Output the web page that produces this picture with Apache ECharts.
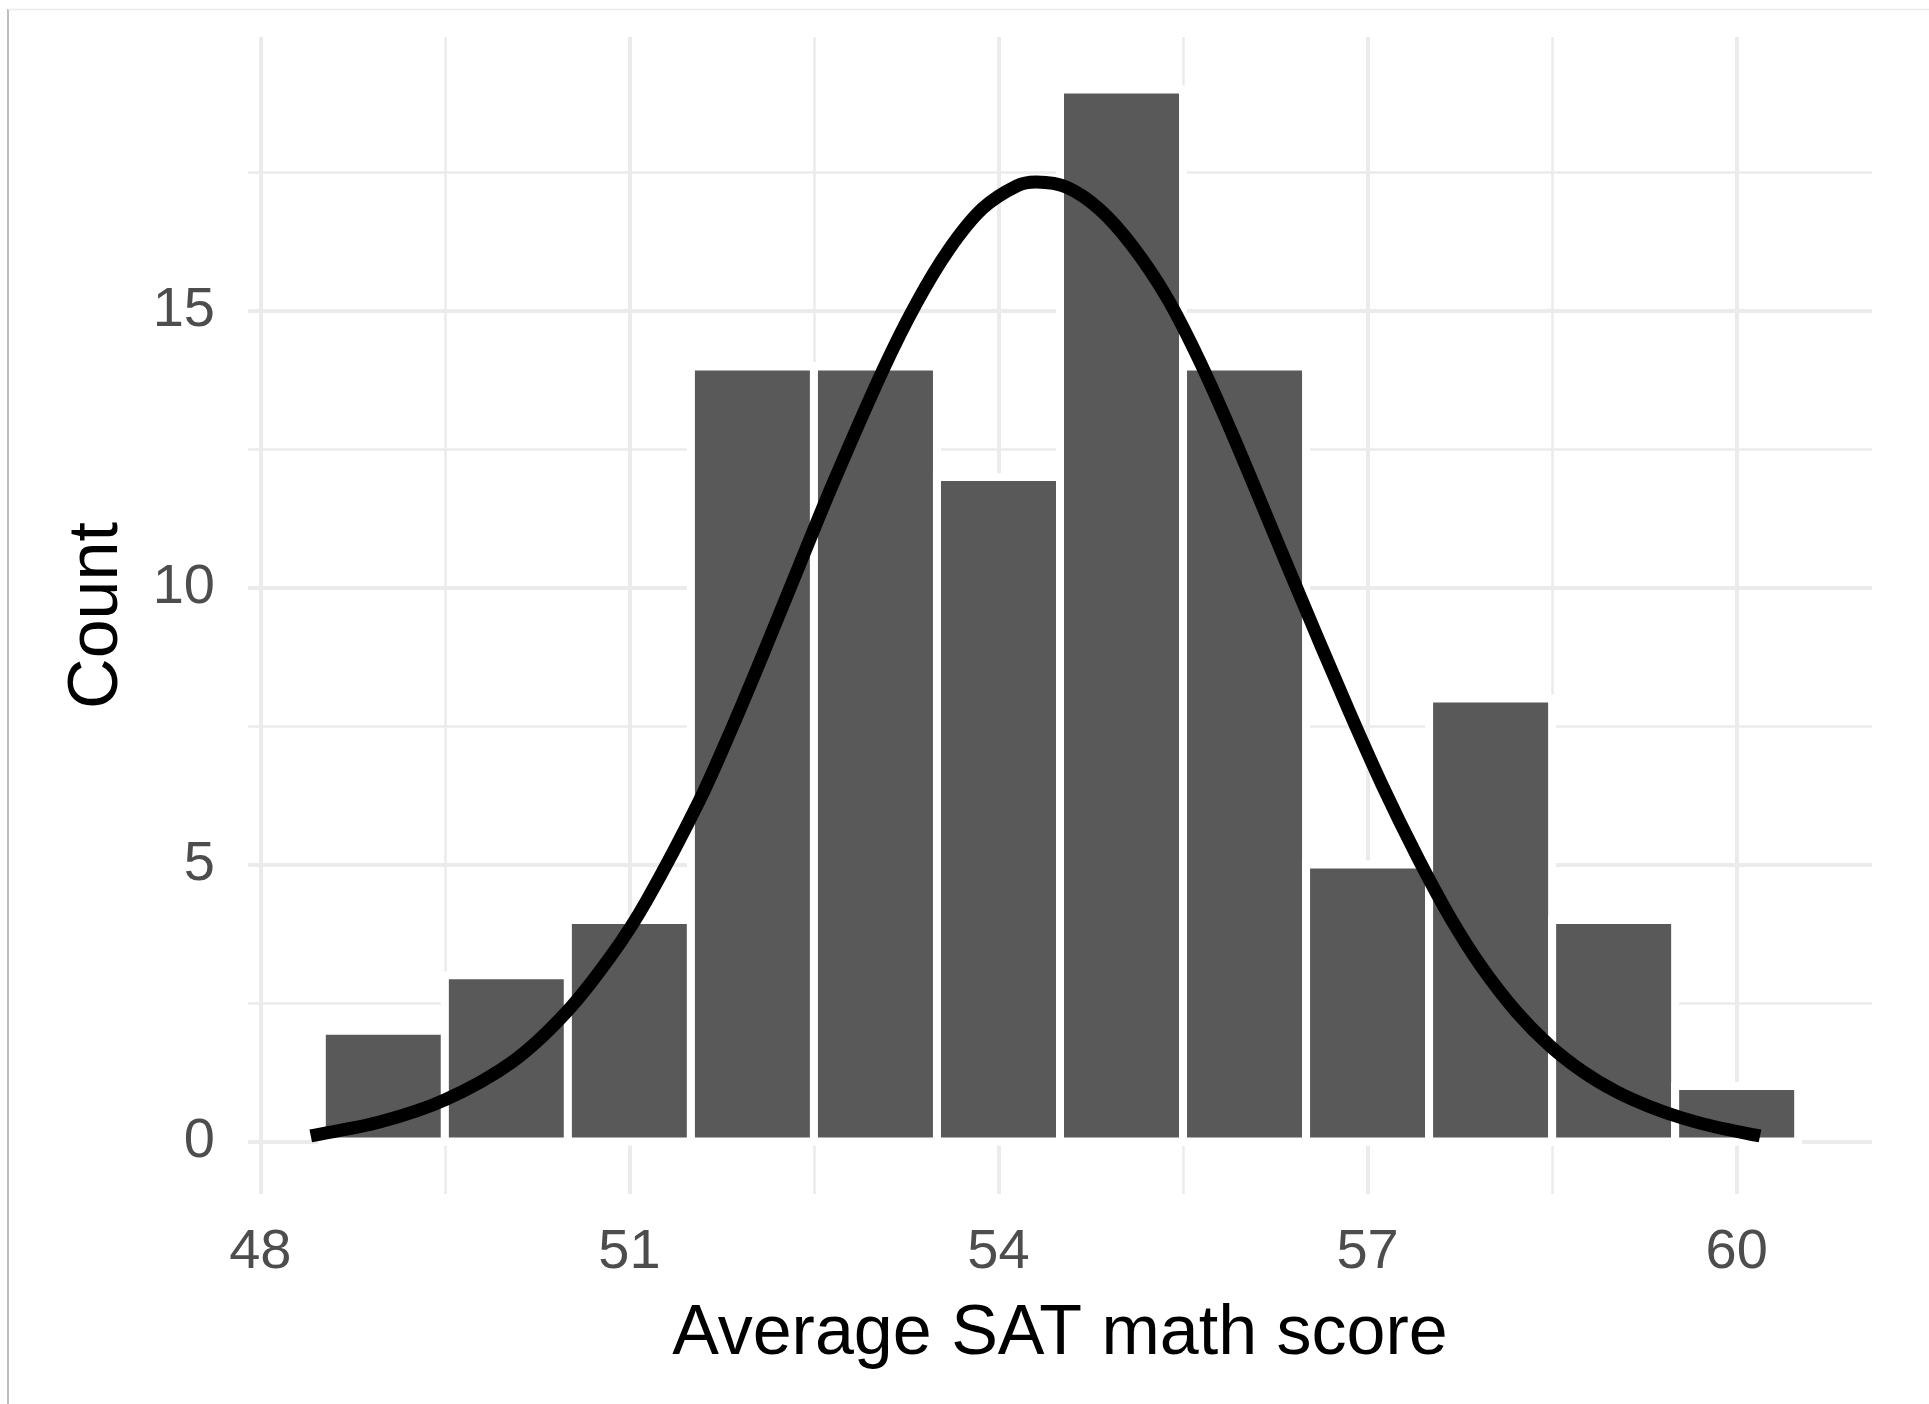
<!DOCTYPE html>
<html>
<head>
<meta charset="utf-8">
<script src="https://cdn.jsdelivr.net/npm/echarts@6/dist/echarts.min.js"></script>
<style>
  html, body { margin: 0; padding: 0; background: #ffffff; }
  #chart { width: 1929px; height: 1404px; }
</style>
</head>
<body>
<div id="chart"></div>
<script>
// Histogram bins (width 1, centred on each whole score) and their counts
const binCenters = [49, 50, 51, 52, 53, 54, 55, 56, 57, 58, 59, 60];
const counts = [2, 3, 4, 14, 14, 12, 19, 14, 5, 8, 4, 1];

// Fitted density curve, on the count scale
const curveX = [48.41, 48.97, 49.5, 50.05, 50.49, 50.86, 51.14, 51.57, 51.84, 52.11,
  52.38, 52.65, 53.06, 53.33, 53.6, 53.87, 54.15, 54.31, 54.55,
  54.82, 55.09, 55.37, 55.63, 55.9, 56.31, 56.59, 56.85, 57.12,
  57.4, 57.67, 57.93, 58.21, 58.48, 58.75, 59.02, 59.29, 59.56, 59.83, 60.19];
const curveY = [0.1, 0.35, 0.75, 1.44, 2.34, 3.38, 4.35, 6.16, 7.5, 8.93,
  10.4, 11.86, 13.93, 15.13, 16.12, 16.85, 17.26, 17.33, 17.24,
  16.84, 16.17, 15.24, 14.12, 12.78, 10.6, 9.12, 7.77, 6.43,
  5.16, 4.05, 3.14, 2.34, 1.73, 1.26, 0.9, 0.63, 0.42, 0.26, 0.1];

// Axis breaks
const xTicks = [48, 51, 54, 57, 60];
const xMinorTicks = [49.5, 52.5, 55.5, 58.5];
const yTicks = [0, 5, 10, 15];
const yMinorTicks = [2.5, 7.5, 12.5, 17.5];

const FONT = '"Liberation Sans", Arial, Helvetica, sans-serif';
const GRID = '#ebebeb';

const chart = echarts.init(document.getElementById('chart'), null, { renderer: 'canvas' });

const gridLines = [];
xMinorTicks.forEach(v => gridLines.push({ xAxis: v, lineStyle: { color: GRID, width: 2.5, type: 'solid' } }));
yMinorTicks.forEach(v => gridLines.push({ yAxis: v, lineStyle: { color: GRID, width: 2.5, type: 'solid' } }));
xTicks.forEach(v => gridLines.push({ xAxis: v, lineStyle: { color: GRID, width: 4, type: 'solid' } }));
yTicks.forEach(v => gridLines.push({ yAxis: v, lineStyle: { color: GRID, width: 4, type: 'solid' } }));

// Smooth curve through the projected points (cubic Hermite, tangents from neighbours)
function curvePath(api) {
  const p = curveX.map((x, i) => api.coord([x, curveY[i]]));
  const n = p.length;
  const m = p.map((pt, i) => {
    const a = p[Math.max(0, i - 1)];
    const b = p[Math.min(n - 1, i + 1)];
    return (b[1] - a[1]) / (b[0] - a[0]);
  });
  let d = 'M' + p[0][0] + ' ' + p[0][1];
  for (let i = 0; i < n - 1; i++) {
    const h = (p[i + 1][0] - p[i][0]) / 3;
    d += ' C' + (p[i][0] + h) + ' ' + (p[i][1] + m[i] * h) + ' ' +
      (p[i + 1][0] - h) + ' ' + (p[i + 1][1] - m[i + 1] * h) + ' ' +
      p[i + 1][0] + ' ' + p[i + 1][1];
  }
  return d;
}

chart.setOption({
  animation: false,
  backgroundColor: '#ffffff',
  grid: { left: 248, top: 37, width: 1624, height: 1157, containLabel: false },
  xAxis: {
    type: 'value',
    min: 47.9,
    max: 61.1,
    axisLine: { show: false },
    axisTick: { show: false },
    splitLine: { show: false },
    axisLabel: {
      customValues: xTicks,
      color: '#4d4d4d',
      fontSize: 56,
      fontFamily: FONT,
      margin: 31
    },
    name: 'Average SAT math score',
    nameLocation: 'middle',
    nameGap: 106,
    nameTextStyle: { color: '#000000', fontSize: 70, fontFamily: FONT }
  },
  yAxis: {
    type: 'value',
    min: -0.95,
    max: 19.95,
    axisLine: { show: false },
    axisTick: { show: false },
    splitLine: { show: false },
    axisLabel: {
      customValues: yTicks,
      color: '#4d4d4d',
      fontSize: 56,
      fontFamily: FONT,
      margin: 33
    },
    name: 'Count',
    nameLocation: 'middle',
    nameGap: 115,
    nameRotate: 90,
    nameTextStyle: { color: '#000000', fontSize: 70, fontFamily: FONT }
  },
  graphic: [
    { type: 'line', shape: { x1: 8, y1: 9, x2: 8, y2: 1404 }, style: { stroke: '#bdbdbd', lineWidth: 2 }, silent: true },
    { type: 'line', shape: { x1: 8, y1: 9.5, x2: 1929, y2: 9.5 }, style: { stroke: '#ececec', lineWidth: 1.5 }, silent: true }
  ],
  series: [
    {
      // panel grid
      type: 'line',
      data: [],
      silent: true,
      z: 1,
      markLine: {
        z: 1,
        silent: true,
        symbol: ['none', 'none'],
        label: { show: false },
        emphasis: { disabled: true },
        data: gridLines
      }
    },
    {
      type: 'custom',
      z: 10,
      silent: true,
      data: binCenters.map((c, i) => [c, counts[i]]),
      renderItem: function (params, api) {
        const c = api.value(0);
        const n = api.value(1);
        const topLeft = api.coord([c - 0.5, n]);
        const bottomRight = api.coord([c + 0.5, 0]);
        return {
          type: 'rect',
          shape: {
            x: topLeft[0],
            y: topLeft[1],
            width: bottomRight[0] - topLeft[0],
            height: bottomRight[1] - topLeft[1]
          },
          style: { fill: '#595959', stroke: '#ffffff', lineWidth: 8 }
        };
      }
    },
    {
      type: 'custom',
      z: 11,
      silent: true,
      data: curveX.map((x, i) => [x, curveY[i]]),
      renderItem: function (params, api) {
        if (params.dataIndex !== 0) return null;
        return {
          type: 'path',
          shape: { pathData: curvePath(api) },
          style: { fill: 'none', stroke: '#000000', lineWidth: 13, lineCap: 'butt', lineJoin: 'round' }
        };
      }
    }
  ]
});
</script>
</body>
</html>
